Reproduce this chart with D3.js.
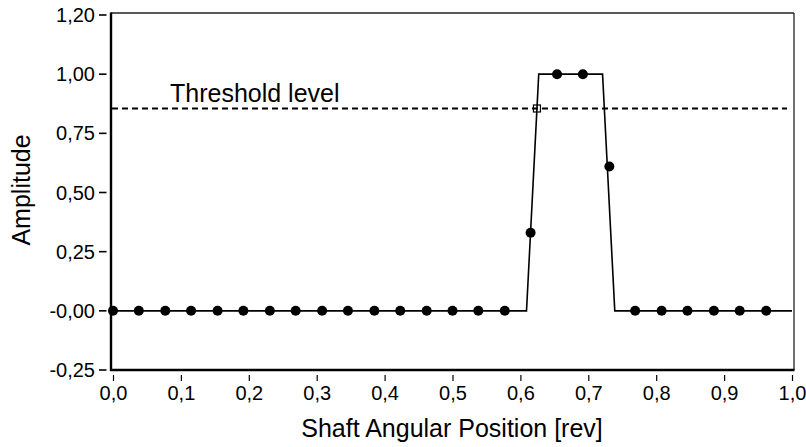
<!DOCTYPE html>
<html>
<head>
<meta charset="utf-8">
<script src="https://cdn.jsdelivr.net/npm/d3@7"></script>
<style>
  html, body { margin: 0; padding: 0; background: #fff; }
  svg { display: block; font-family: "Liberation Sans", Arial, Helvetica, sans-serif; }
</style>
</head>
<body>
<svg id="chart" width="806" height="447"></svg>
<script>
// Sampled signal: shaft angular position [rev] and measured amplitude
const sampleX = [0.000, 0.038, 0.077, 0.115, 0.154, 0.192, 0.231, 0.269, 0.308, 0.346,
                 0.385, 0.423, 0.462, 0.500, 0.538, 0.577, 0.615, 0.654, 0.692, 0.731,
                 0.769, 0.808, 0.846, 0.885, 0.923, 0.962];
const sampleY = [0, 0, 0, 0, 0, 0, 0, 0, 0, 0,
                 0, 0, 0, 0, 0, 0, 0.33, 1.00, 1.00, 0.61,
                 0, 0, 0, 0, 0, 0];

// Ideal pulse envelope
const pulseX = [0.000, 0.609, 0.627, 0.721, 0.739, 1.000];
const pulseY = [0, 0, 1, 1, 0, 0];

// Detection threshold
const thresholdLevel = 0.855;
const thresholdLabel = "Threshold level";

// Axis ticks
const xTickValues = [0.0, 0.1, 0.2, 0.3, 0.4, 0.5, 0.6, 0.7, 0.8, 0.9, 1.0];
const xTickLabels = ["0,0", "0,1", "0,2", "0,3", "0,4", "0,5", "0,6", "0,7", "0,8", "0,9", "1,0"];
const yTickValues = [-0.25, 0, 0.25, 0.5, 0.75, 1.0, 1.25];
const yTickLabels = ["-0,25", "-0,00", "0,25", "0,50", "0,75", "1,00", "1,20"];

const xTitle = "Shaft Angular Position [rev]";
const yTitle = "Amplitude";

const svg = d3.select("#chart");

const x = d3.scaleLinear().domain([0, 1]).range([113, 792]);
const y = d3.scaleLinear().domain([-0.25, 1.25]).range([370, 15]);

// Plot frame: heavy left/bottom axes, light top/right border
const frameL = 111, frameR = 794, frameT = 13, frameB = 370;
svg.append("line").attr("x1", frameL).attr("x2", frameR).attr("y1", frameT).attr("y2", frameT)
  .attr("stroke", "#222").attr("stroke-width", 1.3);
svg.append("line").attr("x1", frameR).attr("x2", frameR).attr("y1", frameT).attr("y2", frameB)
  .attr("stroke", "#222").attr("stroke-width", 1.3);
svg.append("line").attr("x1", frameL).attr("x2", frameL).attr("y1", frameT - 0.5).attr("y2", frameB + 1)
  .attr("stroke", "#000").attr("stroke-width", 2.4);
svg.append("line").attr("x1", frameL - 1).attr("x2", frameR + 0.5).attr("y1", frameB).attr("y2", frameB)
  .attr("stroke", "#000").attr("stroke-width", 2.4);

// Y axis: detached ticks and labels
const yAxis = svg.append("g").attr("class", "y-axis");
yTickValues.forEach((v, i) => {
  const yy = y(v);
  yAxis.append("line").attr("x1", 99).attr("x2", 106.5).attr("y1", yy).attr("y2", yy)
    .attr("stroke", "#000").attr("stroke-width", 1.6);
  yAxis.append("text").attr("x", 95).attr("y", yy).attr("dy", "0.35em")
    .attr("text-anchor", "end").attr("font-size", 20).attr("fill", "#000")
    .text(yTickLabels[i]);
});

// X axis: detached ticks and labels
const xAxis = svg.append("g").attr("class", "x-axis");
xTickValues.forEach((v, i) => {
  const xx = x(v) + 0.5;
  xAxis.append("line").attr("x1", xx).attr("x2", xx).attr("y1", 375).attr("y2", 381)
    .attr("stroke", "#000").attr("stroke-width", 1.2);
  xAxis.append("text").attr("x", xx).attr("y", 400)
    .attr("text-anchor", "middle").attr("font-size", 20).attr("fill", "#000")
    .text(xTickLabels[i]);
});

// Axis titles
svg.append("text").attr("x", 452).attr("y", 437).attr("text-anchor", "middle")
  .attr("font-size", 25).attr("fill", "#000").text(xTitle);
svg.append("text").attr("transform", "translate(29.5,190) rotate(-90)")
  .attr("text-anchor", "middle").attr("font-size", 25).attr("fill", "#000").text(yTitle);

// Threshold line and label
svg.append("line").attr("x1", frameL + 1).attr("x2", 787)
  .attr("y1", y(thresholdLevel)).attr("y2", y(thresholdLevel))
  .attr("stroke", "#000").attr("stroke-width", 1.8).attr("stroke-dasharray", "6,4");
svg.append("text").attr("x", 170).attr("y", y(thresholdLevel) - 6.5)
  .attr("font-size", 25).attr("fill", "#000").text(thresholdLabel);

// Pulse envelope
const pulse = pulseX.map((v, i) => [v, pulseY[i]]);
svg.append("path").datum(pulse)
  .attr("fill", "none").attr("stroke", "#000").attr("stroke-width", 1.6)
  .attr("d", d3.line().x(d => x(d[0])).y(d => y(d[1])));

// Sample points
svg.append("g").selectAll("circle")
  .data(sampleX.map((v, i) => [v, sampleY[i]]))
  .join("circle")
  .attr("cx", d => x(d[0]))
  .attr("cy", d => y(d[1]))
  .attr("r", 5)
  .attr("fill", "#000");

// Threshold crossing on the rising edge of the pulse
let crossX = null;
for (let i = 0; i < pulse.length - 1 && crossX === null; i++) {
  const [x0, y0] = pulse[i], [x1, y1] = pulse[i + 1];
  if (y0 < thresholdLevel && y1 >= thresholdLevel) {
    crossX = x0 + (thresholdLevel - y0) / (y1 - y0) * (x1 - x0);
  }
}
svg.append("rect")
  .attr("x", x(crossX) - 3.5).attr("y", y(thresholdLevel) - 3.5)
  .attr("width", 7).attr("height", 7)
  .attr("fill", "none").attr("stroke", "#000").attr("stroke-width", 1.2);
</script>
</body>
</html>
